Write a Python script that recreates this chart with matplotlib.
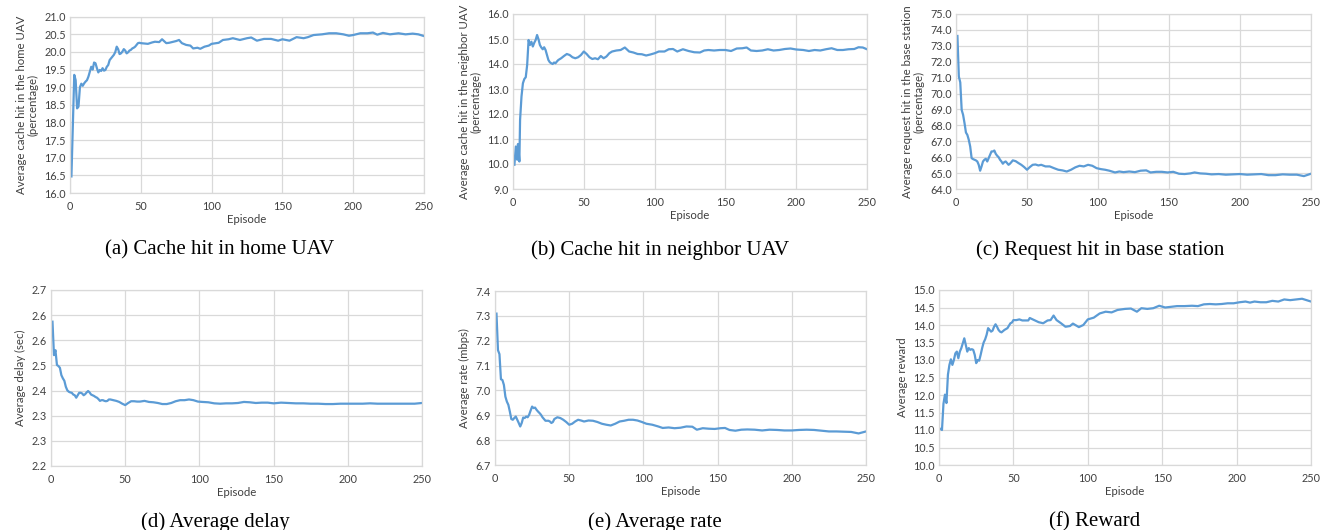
import matplotlib
matplotlib.use("Agg")
import matplotlib.pyplot as plt
import numpy as np
from matplotlib.ticker import FormatStrFormatter

# ---------------- data ----------------
ep_a = [1, 2, 3, 4, 5, 6, 7, 8, 9, 10, 11, 12, 13, 14, 15, 16, 17, 18, 19, 20,
        21, 22, 23, 24, 25, 26, 27, 28, 29, 30, 31, 32, 33, 34, 35, 36, 37, 38, 39, 40,
        41, 42, 43, 44, 45, 46, 47, 48, 49, 50, 55, 58, 60, 63, 65, 68, 70, 73, 75, 77,
        79, 82, 85, 87, 90, 92, 95, 98, 100, 105, 108, 112, 115, 120, 125, 128, 132, 137, 142, 147,
        150, 155, 160, 165, 168, 172, 178, 183, 188, 193, 197, 200, 205, 210, 214, 217, 221, 226, 232, 237,
        242, 246, 250]
home_hit = [16.47, 17.9, 19.35, 19.2, 18.4, 18.45, 19.0, 19.1, 19.04, 19.11, 19.16, 19.2, 19.3, 19.44, 19.58, 19.5, 19.7, 19.68, 19.54, 19.42,
            19.49, 19.46, 19.54, 19.47, 19.49, 19.58, 19.63, 19.77, 19.82, 19.87, 19.92, 20.0, 20.15, 20.08, 19.94, 19.96, 20.01, 20.08, 20.04, 19.96,
            19.99, 20.04, 20.06, 20.1, 20.12, 20.15, 20.2, 20.25, 20.26, 20.25, 20.23, 20.27, 20.29, 20.28, 20.36, 20.25, 20.26, 20.29, 20.31, 20.34,
            20.25, 20.2, 20.18, 20.1, 20.12, 20.09, 20.15, 20.18, 20.23, 20.26, 20.34, 20.36, 20.39, 20.34, 20.39, 20.41, 20.32, 20.37, 20.37, 20.32,
            20.36, 20.32, 20.42, 20.39, 20.42, 20.48, 20.5, 20.53, 20.53, 20.5, 20.46, 20.48, 20.53, 20.53, 20.55, 20.49, 20.54, 20.5, 20.53, 20.5,
            20.52, 20.5, 20.45]

ep_b = [1, 2, 3, 3.5, 4, 4.5, 5, 6, 7, 8, 9, 10, 11, 12, 13, 14, 15, 16, 17, 18,
        19, 20, 21, 22, 23, 24, 25, 26, 27, 28, 29, 30, 31, 32, 34, 36, 38, 40, 42, 44,
        46, 48, 50, 52, 54, 56, 58, 60, 62, 64, 66, 68, 70, 73, 76, 79, 82, 85, 88, 91,
        94, 97, 100, 103, 107, 110, 113, 116, 120, 124, 128, 132, 135, 138, 142, 146, 150, 154, 158, 162,
        165, 168, 172, 176, 180, 184, 188, 192, 196, 200, 205, 209, 213, 217, 221, 225, 229, 233, 237, 241,
        244, 247, 250]
nbr_hit = [9.97, 10.7, 10.17, 10.8, 10.5, 10.1, 11.77, 12.7, 13.23, 13.4, 13.47, 13.96, 14.96, 14.76, 14.89, 14.7, 14.85, 14.96, 15.16, 14.99,
           14.76, 14.66, 14.59, 14.67, 14.56, 14.36, 14.16, 14.07, 14.03, 14.0, 14.06, 14.03, 14.1, 14.16, 14.23, 14.32, 14.4, 14.36, 14.27, 14.23,
           14.27, 14.36, 14.5, 14.4, 14.27, 14.2, 14.23, 14.19, 14.32, 14.23, 14.3, 14.43, 14.5, 14.54, 14.56, 14.66, 14.5, 14.46, 14.4, 14.39,
           14.34, 14.38, 14.43, 14.5, 14.5, 14.59, 14.6, 14.5, 14.59, 14.52, 14.47, 14.46, 14.54, 14.56, 14.54, 14.56, 14.56, 14.52, 14.62, 14.63,
           14.66, 14.54, 14.52, 14.54, 14.59, 14.54, 14.56, 14.6, 14.62, 14.58, 14.56, 14.52, 14.56, 14.54, 14.59, 14.63, 14.56, 14.56, 14.59, 14.6,
           14.67, 14.66, 14.59]

ep_c = [1, 2, 3, 4, 5, 6, 7, 8, 9, 10, 11, 12, 13, 14, 15, 16, 17, 18, 19, 20,
        21, 22, 23, 24, 25, 26, 27, 28, 29, 30, 31, 32, 33, 34, 35, 36, 37, 38, 39, 40,
        42, 44, 46, 48, 50, 52, 54, 56, 58, 60, 63, 66, 69, 72, 75, 78, 81, 84, 87, 90,
        93, 96, 99, 102, 105, 108, 112, 115, 118, 122, 126, 130, 134, 137, 141, 145, 149, 153, 157, 161,
        165, 168, 172, 176, 180, 185, 190, 195, 200, 205, 210, 215, 220, 225, 230, 235, 240, 245, 250]
bs_hit = [73.62, 71.07, 70.7, 68.97, 68.66, 68.14, 67.55, 67.4, 67.09, 66.67, 65.94, 65.88, 65.84, 65.8, 65.73, 65.52, 65.15, 65.42, 65.73, 65.84,
          65.9, 65.73, 65.94, 66.15, 66.36, 66.36, 66.42, 66.21, 66.09, 66.0, 65.84, 65.73, 65.59, 65.69, 65.73, 65.63, 65.52, 65.59, 65.69, 65.8,
          65.75, 65.63, 65.52, 65.38, 65.21, 65.38, 65.52, 65.54, 65.48, 65.52, 65.42, 65.42, 65.31, 65.21, 65.17, 65.1, 65.21, 65.36, 65.46, 65.42,
          65.52, 65.46, 65.31, 65.25, 65.21, 65.15, 65.04, 65.1, 65.06, 65.1, 65.06, 65.15, 65.17, 65.04, 65.08, 65.08, 65.04, 65.08, 64.96, 64.94,
          64.98, 65.04, 64.98, 64.96, 64.92, 64.94, 64.9, 64.92, 64.94, 64.9, 64.92, 64.94, 64.87, 64.87, 64.92, 64.9, 64.9, 64.81, 64.96]

ep_d = [1, 2, 3, 4, 5, 6, 7, 8, 9, 10, 11, 12, 13, 14, 15, 16, 17, 18, 19, 20,
        21, 22, 23, 24, 25, 26, 27, 28, 29, 30, 31, 32, 33, 34, 35, 36, 37, 38, 39, 40,
        42, 44, 46, 48, 50, 52, 54, 56, 58, 60, 63, 66, 69, 72, 75, 78, 81, 84, 87, 90,
        93, 96, 99, 102, 106, 110, 114, 118, 122, 126, 130, 134, 138, 142, 146, 150, 155, 160, 165, 170,
        175, 180, 185, 190, 195, 200, 205, 210, 215, 220, 225, 230, 235, 240, 245, 250]
delay = [2.610, 2.515, 2.529, 2.487, 2.484, 2.479, 2.458, 2.449, 2.442, 2.425, 2.415, 2.411, 2.409, 2.408, 2.403, 2.401, 2.394, 2.401, 2.408, 2.408,
         2.406, 2.401, 2.404, 2.409, 2.413, 2.409, 2.403, 2.401, 2.399, 2.396, 2.394, 2.390, 2.385, 2.387, 2.387, 2.385, 2.384, 2.385, 2.389, 2.389,
         2.387, 2.385, 2.382, 2.377, 2.373, 2.379, 2.384, 2.384, 2.383, 2.383, 2.385, 2.382, 2.381, 2.379, 2.376, 2.376, 2.379, 2.384, 2.387, 2.387,
         2.389, 2.387, 2.383, 2.382, 2.381, 2.378, 2.377, 2.378, 2.378, 2.379, 2.382, 2.381, 2.379, 2.380, 2.380, 2.378, 2.380, 2.379, 2.378, 2.378,
         2.377, 2.377, 2.376, 2.376, 2.377, 2.377, 2.377, 2.377, 2.378, 2.377, 2.377, 2.377, 2.377, 2.377, 2.377, 2.379]

ep_e = [1, 2, 3, 4, 5, 6, 7, 8, 9, 10, 11, 12, 13, 14, 15, 16, 17, 18, 19, 20,
        21, 22, 23, 24, 25, 26, 27, 28, 29, 30, 31, 32, 33, 34, 35, 36, 37, 38, 39, 40,
        42, 44, 46, 48, 50, 52, 54, 56, 58, 60, 63, 66, 69, 72, 75, 78, 81, 84, 87, 90,
        93, 96, 99, 102, 106, 110, 113, 117, 121, 125, 129, 133, 136, 140, 144, 148, 152, 155, 158, 162,
        166, 170, 175, 180, 185, 190, 195, 200, 205, 210, 215, 220, 225, 230, 235, 240, 245, 250]
rate = [7.309, 7.162, 7.146, 7.045, 7.042, 7.022, 6.975, 6.955, 6.942, 6.915, 6.885, 6.882, 6.889, 6.895, 6.882, 6.869, 6.855, 6.869, 6.891, 6.889,
        6.895, 6.892, 6.902, 6.919, 6.935, 6.929, 6.931, 6.922, 6.915, 6.909, 6.902, 6.892, 6.885, 6.878, 6.878, 6.878, 6.875, 6.869, 6.873, 6.885,
        6.892, 6.889, 6.882, 6.873, 6.862, 6.866, 6.875, 6.882, 6.879, 6.875, 6.879, 6.878, 6.873, 6.866, 6.862, 6.859, 6.866, 6.875, 6.878, 6.882,
        6.882, 6.879, 6.873, 6.866, 6.862, 6.855, 6.849, 6.851, 6.848, 6.850, 6.855, 6.854, 6.842, 6.848, 6.846, 6.845, 6.848, 6.849, 6.841, 6.838,
        6.842, 6.843, 6.842, 6.839, 6.842, 6.841, 6.839, 6.839, 6.841, 6.842, 6.841, 6.838, 6.835, 6.835, 6.834, 6.833, 6.827, 6.835]

ep_f = [1, 2, 3, 4, 5, 6, 7, 8, 9, 10, 11, 12, 13, 14, 15, 16, 17, 18, 19, 20,
        21, 22, 23, 24, 25, 26, 27, 28, 29, 30, 31, 32, 33, 34, 35, 36, 37, 38, 39, 40,
        41, 42, 44, 46, 48, 49, 50, 52, 54, 56, 58, 60, 61, 64, 67, 70, 73, 75, 77, 79,
        82, 85, 88, 90, 94, 97, 100, 104, 108, 112, 116, 120, 125, 129, 133, 136, 140, 144, 148, 152,
        156, 160, 165, 170, 174, 178, 182, 186, 190, 194, 198, 202, 206, 209, 212, 216, 220, 224, 228, 232,
        236, 240, 244, 247, 250]
reward = [11.03, 11.0, 11.75, 12.01, 11.77, 12.58, 12.86, 13.02, 12.86, 13.0, 13.19, 13.24, 13.05, 13.24, 13.34, 13.48, 13.62, 13.43, 13.24, 13.34,
          13.29, 13.31, 13.29, 13.15, 12.91, 13.0, 12.98, 13.15, 13.34, 13.5, 13.59, 13.72, 13.91, 13.86, 13.81, 13.84, 13.95, 14.02, 13.95, 13.86,
          13.81, 13.79, 13.86, 13.91, 14.05, 14.07, 14.14, 14.14, 14.16, 14.13, 14.13, 14.13, 14.2, 14.14, 14.08, 14.05, 14.13, 14.14, 14.27, 14.14,
          14.05, 13.95, 13.97, 14.04, 13.94, 14.0, 14.16, 14.21, 14.33, 14.38, 14.36, 14.43, 14.46, 14.47, 14.38, 14.48, 14.46, 14.48, 14.55, 14.5,
          14.52, 14.54, 14.54, 14.55, 14.54, 14.59, 14.6, 14.59, 14.6, 14.62, 14.62, 14.65, 14.67, 14.64, 14.67, 14.65, 14.65, 14.69, 14.67, 14.73,
          14.71, 14.73, 14.75, 14.71, 14.67]

x_ticks = [0, 50, 100, 150, 200, 250]
ylims = [(16.0, 21.0), (9.0, 16.0), (64.0, 75.0), (2.2, 2.7), (6.7, 7.4), (10.0, 15.0)]
n_ytick_intervals = [10, 7, 11, 7, 7, 10]
ylabels = ["Average cache hit in the home UAV\n(percentage)",
           "Average cache hit in the neighbor UAV\n(percentage)",
           "Average request hit in the base station\n(percentage)",
           "Average delay (sec)",
           "Average rate (mbps)",
           "Average reward"]
captions = ["(a) Cache hit in home UAV", "(b) Cache hit in neighbor UAV",
            "(c) Request hit in base station", "(d) Average delay",
            "(e) Average rate", "(f) Reward"]

# ---------------- figure ----------------
W, H = 1321, 530
fig = plt.figure(figsize=(W / 100, H / 100), dpi=100)
fig.patch.set_facecolor("white")

# axes boxes in pixels: left, right, top, bottom
boxes = [(70, 424, 16.7, 193), (513, 867, 14, 189), (956, 1311, 14, 189),
         (51, 422, 290, 466), (495, 866, 291, 465), (939, 1311, 290, 465)]
caption_pos = [(220, 250), (660, 250), (1100, 250), (215, 522), (655, 522), (1095, 522)]

xs = [ep_a, ep_b, ep_c, ep_d, ep_e, ep_f]
ys = [home_hit, nbr_hit, bs_hit, delay, rate, reward]

line_color = "#5B9BD5"
grid_color = "#d9d9d9"
text_color = "#404040"
tick_font = "Lato"

for i in range(6):
    l, r, t, b = boxes[i]
    ax = fig.add_axes([l / W, 1 - b / H, (r - l) / W, (b - t) / H])
    ax.plot(xs[i], ys[i], color=line_color, lw=1.6, solid_joinstyle="round")
    ax.set_xlim(0, 250)
    lo, hi = ylims[i]
    ax.set_ylim(lo, hi)
    ax.set_xticks(x_ticks)
    ax.set_yticks(np.linspace(lo, hi, n_ytick_intervals[i] + 1))
    ax.yaxis.set_major_formatter(FormatStrFormatter("%.1f"))
    ax.grid(True, color=grid_color, lw=0.9)
    ax.set_axisbelow(True)
    for sp in ax.spines.values():
        sp.set_color(grid_color)
        sp.set_linewidth(0.9)
    ax.tick_params(axis="y", length=0, labelsize=7.8, labelcolor=text_color, pad=3)
    ax.tick_params(axis="x", length=0, labelsize=7.8, labelcolor=text_color, pad=6)
    for lab in ax.get_xticklabels() + ax.get_yticklabels():
        lab.set_fontfamily(tick_font)
    ax.set_xlabel("Episode", fontsize=8.2, color=text_color, family=tick_font, labelpad=1)
    ax.set_ylabel(ylabels[i], fontsize=8.2, color=text_color, family=tick_font, labelpad=4,
                  linespacing=1.05)
    cx, cy = caption_pos[i]
    fig.text(cx / W, 1 - cy / H, captions[i], ha="center", va="center",
             fontsize=15, family="Liberation Serif", color="black")

fig.savefig("out.png", dpi=100, facecolor="white")
